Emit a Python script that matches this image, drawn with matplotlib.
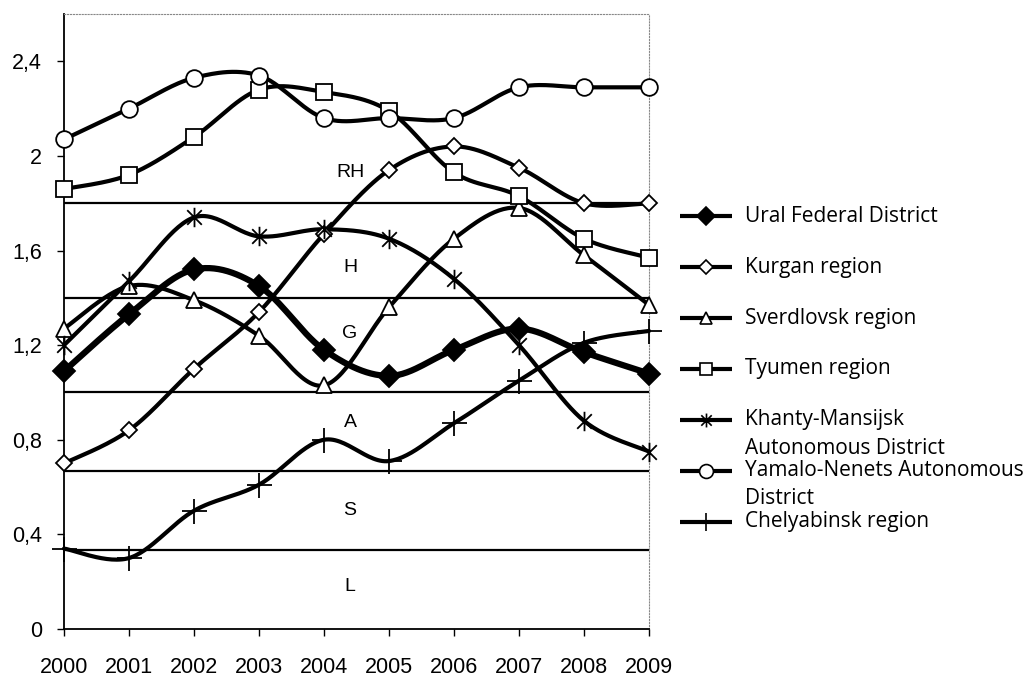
import numpy as np
import matplotlib.pyplot as plt
from matplotlib.lines import Line2D
from matplotlib.path import Path

years = [2000, 2001, 2002, 2003, 2004, 2005, 2006, 2007, 2008, 2009]

ural = [1.09, 1.33, 1.52, 1.45, 1.18, 1.07, 1.18, 1.27, 1.17, 1.08]
kurgan = [0.70, 0.84, 1.10, 1.34, 1.67, 1.94, 2.04, 1.95, 1.80, 1.80]
sverdlovsk = [1.27, 1.45, 1.39, 1.24, 1.03, 1.36, 1.65, 1.78, 1.58, 1.37]
tyumen = [1.86, 1.92, 2.08, 2.28, 2.27, 2.19, 1.93, 1.83, 1.65, 1.57]
khanty = [1.20, 1.47, 1.74, 1.66, 1.69, 1.65, 1.48, 1.20, 0.88, 0.75]
yamalo = [2.07, 2.20, 2.33, 2.34, 2.16, 2.16, 2.16, 2.29, 2.29, 2.29]
chelyabinsk = [0.34, 0.30, 0.50, 0.61, 0.80, 0.71, 0.87, 1.05, 1.21, 1.26]

names = ["Ural Federal District", "Kurgan region", "Sverdlovsk region",
         "Tyumen region", "Khanty-Mansijsk\nAutonomous District",
         "Yamalo-Nenets Autonomous\nDistrict", "Chelyabinsk region"]

levels = [1 / 3, 2 / 3, 1.0, 1.4, 1.8]
zone_labels = ["L", "S", "A", "G", "H", "RH"]
zone_label_y = [0.18, 0.50, 0.875, 1.25, 1.53, 1.93]

yticks = [0, 0.4, 0.8, 1.2, 1.6, 2.0, 2.4]
ytick_labels = ["0", "0,4", "0,8", "1,2", "1,6", "2", "2,4"]

narrow = "Liberation Sans"

# asterisk: vertical bar plus an X
star = Path([(0, -1), (0, 1), (-0.75, -0.75), (0.75, 0.75), (-0.75, 0.75), (0.75, -0.75)],
            [Path.MOVETO, Path.LINETO, Path.MOVETO, Path.LINETO, Path.MOVETO, Path.LINETO])

styles = [
    dict(marker="D", ms=11, mfc="black", lw=4.5),
    dict(marker="D", ms=8, mfc="white", lw=3),
    dict(marker="^", ms=11, mfc="white", lw=3),
    dict(marker="s", ms=12, mfc="white", lw=3),
    dict(marker=star, ms=14, mfc="none", lw=3),
    dict(marker="o", ms=12, mfc="white", lw=3),
    dict(marker="+", ms=18, mfc="none", lw=3),
]
legend_ms = [9, 7, 9, 9, 10, 10, 13]


def smooth(x, y, n=30):
    # Catmull-Rom style bezier, like a spreadsheet "smoothed line"
    p = np.column_stack([x, y]).astype(float)
    pts = [p[0]]
    for i in range(len(p) - 1):
        p0 = p[max(i - 1, 0)]
        p1 = p[i]
        p2 = p[i + 1]
        p3 = p[min(i + 2, len(p) - 1)]
        c1 = p1 + (p2 - p0) / 6
        c2 = p2 - (p3 - p1) / 6
        t = np.linspace(0, 1, n)[1:, None]
        seg = (1 - t) ** 3 * p1 + 3 * (1 - t) ** 2 * t * c1 + 3 * (1 - t) * t ** 2 * c2 + t ** 3 * p2
        pts.extend(seg)
    pts = np.array(pts)
    return pts[:, 0], pts[:, 1]


fig = plt.figure(figsize=(10.36, 6.78), dpi=100)
W, H = 1036, 678
ax = fig.add_axes([64 / W, 1 - 629 / H, (649 - 64) / W, (629 - 14) / H])

for lv in levels:
    ax.axhline(lv, color="black", lw=1.6, zorder=1)

series = [ural, kurgan, sverdlovsk, tyumen, khanty, yamalo, chelyabinsk]
for vals, st in zip(series, styles):
    sx, sy = smooth(years, vals)
    ax.plot(sx, sy, color="black", lw=st["lw"], solid_capstyle="round", zorder=3, clip_on=False)
    ax.plot(years, vals, ls="none", marker=st["marker"], ms=st["ms"], mfc=st["mfc"],
            mec="black", mew=1.3, zorder=4, clip_on=False)

for lab, ly in zip(zone_labels, zone_label_y):
    ax.text(2004.4, ly, lab, ha="center", va="center", fontsize=14, family=narrow)

ax.set_xlim(2000, 2009)
ax.set_ylim(0, 2.6)
ax.set_xticks(years)
ax.set_xticklabels([str(y) for y in years], fontsize=15.5, family=narrow)
ax.set_yticks(yticks)
ax.set_yticklabels(ytick_labels, fontsize=15.5, family=narrow)
ax.tick_params(axis="x", direction="out", length=5, width=1, pad=15)
ax.tick_params(axis="y", direction="out", length=5, width=1, pad=11)

for s in ["top", "right"]:
    ax.spines[s].set_linestyle(":")
    ax.spines[s].set_color("#888888")
    ax.spines[s].set_linewidth(0.8)
for s in ["left", "bottom"]:
    ax.spines[s].set_color("black")
    ax.spines[s].set_linewidth(1.3)

# legend drawn by hand, on the right
ly0, dly = 216, 51
for i, (name, st) in enumerate(zip(names, styles)):
    yy = 1 - (ly0 + i * dly) / H
    fig.add_artist(Line2D([680 / W, 732 / W], [yy, yy], color="black", lw=3,
                          solid_capstyle="butt"))
    fig.add_artist(Line2D([706 / W], [yy], ls="none", marker=st["marker"], ms=legend_ms[i],
                          mfc=st["mfc"], mec="black", mew=1.2))
    for k, line in enumerate(name.split("\n")):
        fig.text(745 / W, 1 - (ly0 + i * dly + k * 28) / H, line, va="center", ha="left",
                 fontsize=15, family="Open Sans")

fig.savefig("out.png", dpi=100)
